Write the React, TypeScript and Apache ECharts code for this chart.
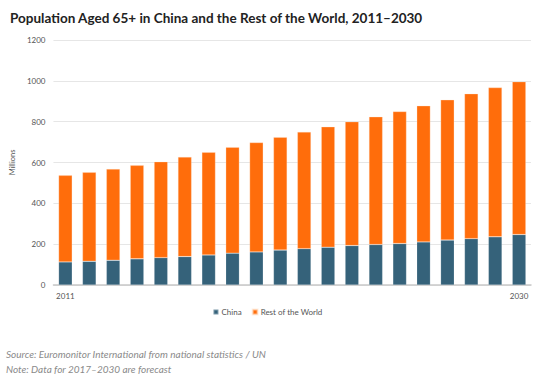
import React, { useEffect, useRef } from "react";
import * as echarts from "echarts";

const years = [
  "2011", "2012", "2013", "2014", "2015", "2016", "2017", "2018", "2019", "2020",
  "2021", "2022", "2023", "2024", "2025", "2026", "2027", "2028", "2029", "2030",
];
const china = [113, 116, 121, 128, 134, 139, 147, 156, 162, 171, 178, 185, 193, 198, 203, 211, 220, 227, 236, 247];
const restOfWorld = [424, 436, 447, 458, 470, 488, 503, 519, 536, 553, 572, 590, 607, 626, 647, 667, 687, 710, 731, 749];
const yTicks = { min: 0, max: 1200, interval: 200 };

const titleText = "Population Aged 65+ in China and the Rest of the World, 2011–2030";
const sourceText = "Source: Euromonitor International from national statistics / UN";
const noteText = "Note: Data for 2017–2030 are forecast";

export default function App() {
  const ref = useRef<HTMLDivElement>(null);
  useEffect(() => {
    if (!ref.current) return;
    const chart = echarts.init(ref.current, undefined, { renderer: "svg" });
    const font = "Lato, 'Open Sans', sans-serif";
    chart.setOption({
      animation: false,
      backgroundColor: "#ffffff",
      title: {
        text: titleText,
        left: 5,
        top: 6,
        textStyle: { fontFamily: font, fontSize: 13.5, fontWeight: "bold", color: "#222222" },
      },
      legend: {
        bottom: 61,
        left: "center",
        itemWidth: 5,
        itemHeight: 5,
        itemGap: 10,
        icon: "rect",
        textStyle: { fontFamily: font, fontSize: 8, color: "#555555", padding: [0, 0, 0, -2] },
        data: ["China", "Rest of the World"],
      },
      grid: { left: 42, right: 4, top: 40, bottom: 97, containLabel: false },
      xAxis: {
        type: "category",
        data: years,
        axisTick: { show: false },
        axisLine: { lineStyle: { color: "#c8c8c8", width: 1.5 } },
        axisLabel: {
          interval: (index: number) => index === 0 || index === years.length - 1,
          fontFamily: font,
          fontSize: 8,
          color: "#555555",
          margin: 7,
        },
      },
      yAxis: {
        type: "value",
        min: yTicks.min,
        max: yTicks.max,
        interval: yTicks.interval,
        name: "Millions",
        nameLocation: "middle",
        nameGap: 27,
        nameTextStyle: { fontFamily: font, fontSize: 7.5, color: "#555555" },
        axisLabel: {
          fontFamily: font,
          fontSize: 8,
          color: "#555555",
          margin: 8,
          formatter: (v: number) => String(v),
        },
        splitLine: { lineStyle: { color: "#e6e6e6", width: 1 } },
        axisLine: { show: false },
        axisTick: { show: false },
      },
      series: [
        {
          name: "China",
          type: "bar",
          stack: "total",
          data: china,
          barWidth: "57%",
          itemStyle: { color: "#35627a", borderColor: "rgba(255,255,255,0.35)", borderWidth: 0.5 },
        },
        {
          name: "Rest of the World",
          type: "bar",
          stack: "total",
          data: restOfWorld,
          barWidth: "57%",
          itemStyle: { color: "#ff6d0b", borderColor: "rgba(255,230,210,0.6)", borderWidth: 0.5 },
        },
      ],
      graphic: [
        {
          type: "text",
          left: 6,
          top: 349,
          style: { text: sourceText, fontFamily: font, fontSize: 10, fontStyle: "italic", fill: "#8a8a8a" },
        },
        {
          type: "text",
          left: 6,
          top: 364,
          style: { text: noteText, fontFamily: font, fontSize: 10, fontStyle: "italic", fill: "#8a8a8a" },
        },
      ],
    });
    return () => chart.dispose();
  }, []);
  return <div ref={ref} style={{ position: "fixed", left: 0, top: 0, width: 535, height: 382 }} />;
}
